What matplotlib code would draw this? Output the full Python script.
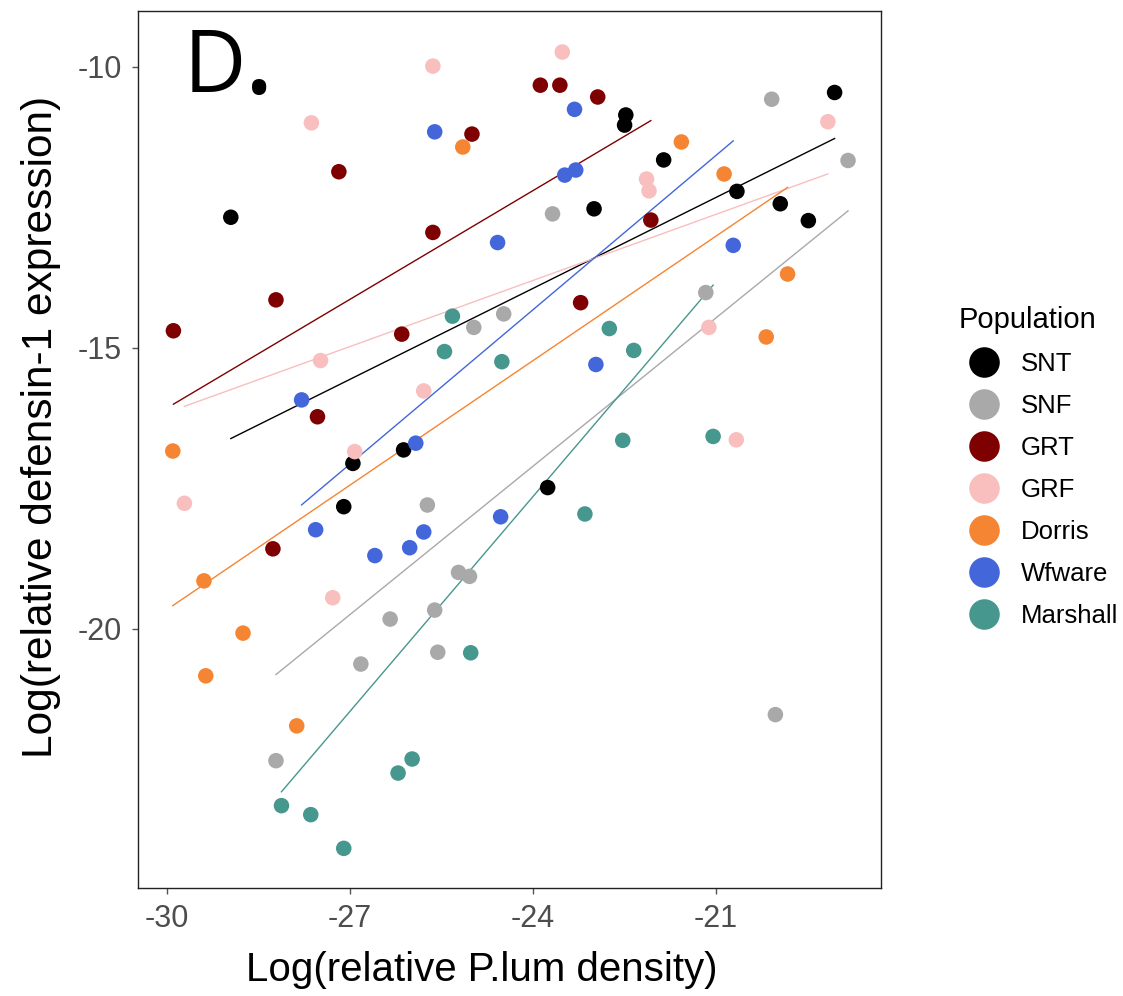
import numpy as np
import matplotlib
matplotlib.use("Agg")
import matplotlib.pyplot as plt
from matplotlib.lines import Line2D

populations = ["SNT", "SNF", "GRT", "GRF", "Dorris", "Wfware", "Marshall"]
colors = ["#000000", "#A9A9A9", "#7F0000", "#F9BEBE", "#F58532", "#4366DB", "#46978E"]

snt_x = [-28.95, -22.48, -22.50, -21.86, -23.00, -20.66, -19.95, -19.49, -19.06, -26.95, -26.12, -27.10, -23.76]
snt_y = [-12.68, -10.86, -11.04, -11.66, -12.53, -12.22, -12.44, -12.74, -10.46, -17.06, -16.82, -17.83, -17.49]

snf_x = [-23.68, -20.09, -18.84, -21.17, -24.97, -24.48, -25.73, -25.22, -25.04, -26.34, -25.61, -26.82, -25.56, -28.21, -20.03]
snf_y = [-12.62, -10.58, -11.67, -14.02, -14.64, -14.40, -17.80, -19.00, -19.07, -19.83, -19.67, -20.63, -20.42, -22.35, -21.53]

grt_x = [-29.89, -28.21, -27.18, -25.64, -25.00, -23.88, -23.56, -22.94, -23.22, -22.07, -26.15, -27.53, -28.26]
grt_y = [-14.70, -14.15, -11.87, -12.95, -11.20, -10.33, -10.33, -10.54, -14.20, -12.73, -14.76, -16.23, -18.58]

grf_x = [-25.64, -27.63, -23.52, -22.14, -22.10, -19.17, -27.48, -25.79, -26.92, -29.71, -27.28, -21.12, -20.67]
grf_y = [-9.99, -11.00, -9.74, -12.00, -12.21, -10.98, -15.23, -15.77, -16.85, -17.77, -19.45, -14.64, -16.64]

dorris_x = [-25.15, -21.57, -20.87, -19.83, -20.18, -29.90, -29.39, -28.75, -29.36, -27.87]
dorris_y = [-11.43, -11.34, -11.91, -13.69, -14.81, -16.84, -19.15, -20.08, -20.84, -21.73]

wfware_x = [-25.61, -24.58, -23.32, -23.48, -23.30, -20.72, -27.79, -25.92, -27.56, -25.79, -26.02, -26.59, -24.53, -22.97]
wfware_y = [-11.16, -13.13, -10.76, -11.93, -11.84, -13.18, -15.93, -16.70, -18.24, -18.28, -18.56, -18.70, -18.01, -15.30]

marshall_x = [-25.32, -25.45, -24.51, -22.75, -22.35, -22.53, -21.05, -23.15, -25.02, -28.12, -27.64, -27.10, -26.21, -25.98]
marshall_y = [-14.44, -15.07, -15.25, -14.66, -15.05, -16.65, -16.58, -17.96, -20.43, -23.15, -23.31, -23.91, -22.57, -22.32]

xs = [snt_x, snf_x, grt_x, grf_x, dorris_x, wfware_x, marshall_x]
ys = [snt_y, snf_y, grt_y, grf_y, dorris_y, wfware_y, marshall_y]

x_ticks = [-30, -27, -24, -21]
y_ticks = [-10, -15, -20]

fig = plt.figure(figsize=(11.23, 9.96), dpi=100)
ax = fig.add_axes([138.3 / 1123, 1 - 887.7 / 996, (881 - 138.3) / 1123, (887.7 - 11) / 996])

# regression lines (drawn first, below the points)
for x, y, c in zip(xs, ys, colors):
    x = np.array(x); y = np.array(y)
    k, b = np.polyfit(x, y, 1)
    xx = np.linspace(x.min(), x.max(), 50)
    ax.plot(xx, k * xx + b, color=c, lw=1.0, zorder=2)

for x, y, c in zip(xs, ys, colors):
    ax.scatter(x, y, s=125, color=c, edgecolors="none", zorder=3)

ax.set_xlim(-30.465, -18.30)
ax.set_ylim(-24.61, -9.01)
ax.set_xticks(x_ticks)
ax.set_yticks(y_ticks)
ax.set_xticklabels([str(t) for t in x_ticks])
ax.set_yticklabels([str(t) for t in y_ticks])
ax.tick_params(axis="both", colors="#555555", labelcolor="#4D4D4D", labelsize=22, length=4, width=1, pad=8)
for sp in ax.spines.values():
    sp.set_color("#222222")
    sp.set_linewidth(1.0)

ax.set_xlabel("Log(relative P.lum density)", fontsize=29, family="Liberation Sans")
ax.set_ylabel("Log(relative defensin-1 expression)", fontsize=30.5, family="Liberation Sans")
ax.xaxis.set_label_coords(0.463, -0.072)
ax.yaxis.set_label_coords(-0.104, 0.525)
for lab in ax.get_xticklabels() + ax.get_yticklabels():
    lab.set_family("Liberation Sans")

fig.text(184 / 1123, 1 - 92 / 996, "D", fontsize=62, family="Open Sans", va="baseline", ha="left")
fig.text(243 / 1123, 1 - 93 / 996, ".", fontsize=88, family="Open Sans", va="baseline", ha="left")

handles = [Line2D([0], [0], marker="o", linestyle="none", markersize=22, markerfacecolor=c,
                  markeredgecolor="none") for c in colors]
leg = fig.legend(handles, populations, loc="upper left", bbox_to_anchor=(948 / 1123, 1 - 296 / 996),
                 frameon=False, title="Population",
                 title_fontsize=21, labelspacing=0.70, handletextpad=0.45, borderaxespad=0,
                 prop={"family": "Liberation Sans", "size": 18.5})
leg.get_title().set_family("Liberation Sans")
leg._legend_box.align = "left"

fig.savefig("out.png", dpi=100)
